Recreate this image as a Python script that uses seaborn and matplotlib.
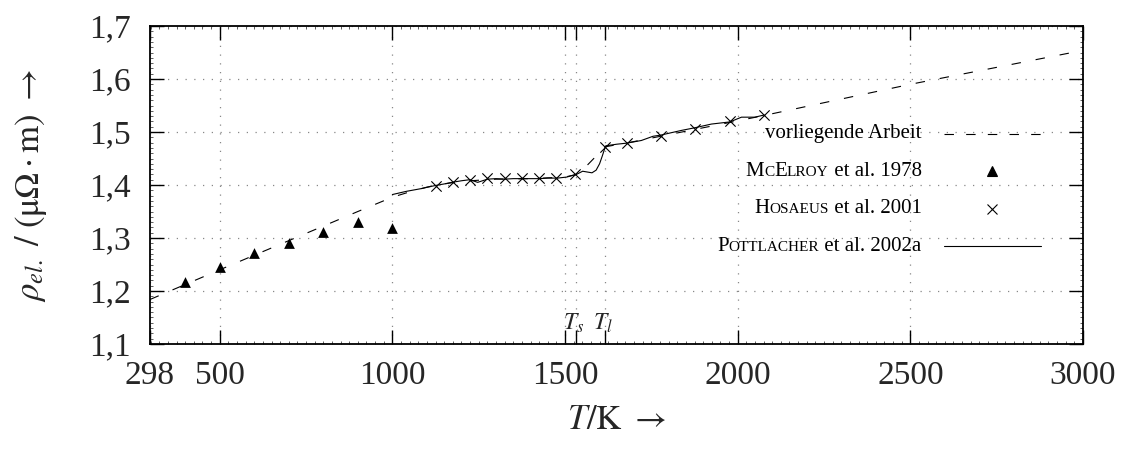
"""
Spezifischer elektrischer Widerstand rho_el. ueber T
Output: out.png
"""
import matplotlib
matplotlib.use('Agg')
import matplotlib.pyplot as plt
from matplotlib.ticker import MultipleLocator
from matplotlib.offsetbox import TextArea, HPacker, VPacker, DrawingArea, AnnotationBbox
from matplotlib.lines import Line2D
import seaborn as sns

sns.set_theme(style='ticks')
plt.rcParams.update({
    'font.family': ['Liberation Serif', 'DejaVu Serif'],
    'mathtext.fontset': 'stix',
    'font.size': 24,
})

# --- Daten ---
T_arbeit = [298, 500, 700, 900, 1000, 1050, 1100, 1130, 1200, 1300, 1400, 1500,
            1540, 1616, 1700, 1800, 1900, 2000, 2075, 2500, 3000]
rho_arbeit = [1.184, 1.240, 1.295, 1.350, 1.377, 1.387, 1.396, 1.400, 1.407, 1.411,
              1.412, 1.415, 1.421, 1.472, 1.482, 1.495, 1.508, 1.521, 1.531, 1.590, 1.654]

T_mcelroy = [400, 500, 600, 700, 800, 900, 1000]
rho_mcelroy = [1.217, 1.245, 1.271, 1.291, 1.311, 1.330, 1.319]

T_hosaeus = [1125, 1175, 1225, 1275, 1325, 1375, 1425, 1475, 1530, 1617,
             1680, 1777, 1876, 1977, 2076]
rho_hosaeus = [1.398, 1.406, 1.410, 1.413, 1.413, 1.413, 1.413, 1.413, 1.421, 1.472,
               1.480, 1.493, 1.506, 1.520, 1.533]

T_pott = [1000, 1040, 1082, 1124, 1150, 1172, 1200, 1224, 1247, 1275, 1300, 1325,
          1350, 1375, 1400, 1427, 1450, 1478, 1505, 1533, 1551, 1578, 1590, 1600,
          1608, 1614, 1618, 1650, 1679, 1721, 1755, 1776, 1837, 1876, 1924, 1977,
          2011, 2050, 2076]
rho_pott = [1.382, 1.388, 1.393, 1.399, 1.402, 1.405, 1.408, 1.410, 1.405, 1.411,
            1.412, 1.411, 1.412, 1.412, 1.412, 1.412, 1.413, 1.413, 1.415, 1.420,
            1.426, 1.423, 1.428, 1.440, 1.455, 1.467, 1.474, 1.477, 1.479, 1.484,
            1.492, 1.494, 1.503, 1.508, 1.515, 1.519, 1.528, 1.528, 1.532]

T_s, T_l = 1533, 1617
x_ticks = [298, 500, 1000, 1500, 2000, 2500, 3000]
y_ticks = [1.1, 1.2, 1.3, 1.4, 1.5, 1.6, 1.7]
y_labels = ['1,1', '1,2', '1,3', '1,4', '1,5', '1,6', '1,7']

fig = plt.figure(figsize=(11.32, 4.54), dpi=100)
ax = fig.add_axes([0.1325, 0.2423, 0.8242, 0.7004])

# --- Kurven ---
sns.lineplot(x=T_arbeit, y=rho_arbeit, ax=ax, color='black', lw=0.8, estimator=None, sort=False)
ax.lines[-1].set_dashes([8.5, 13.5])
sns.lineplot(x=T_pott, y=rho_pott, ax=ax, color='black', lw=0.8, estimator=None, sort=False)
sns.scatterplot(x=T_mcelroy, y=rho_mcelroy, ax=ax, marker='^', s=60, color='black',
                linewidth=0, zorder=4)
sns.scatterplot(x=T_hosaeus, y=rho_hosaeus, ax=ax, marker='x', s=55, color='black',
                linewidth=0.8, zorder=4)

# --- Achsen ---
ax.set_xlim(298, 3000)
ax.set_ylim(1.1, 1.7)
ax.set_xticks(x_ticks + [T_s, T_l])
ax.set_xticklabels([str(t) for t in x_ticks] + ['', ''])
ax.set_yticks(y_ticks)
ax.set_yticklabels(y_labels)
ax.xaxis.set_minor_locator(MultipleLocator(25))
ax.yaxis.set_minor_locator(MultipleLocator(0.01))
ax.tick_params(which='major', direction='in', length=10, width=1.0, top=True, right=True,
               labelsize=24, color='black')
ax.tick_params(axis='x', which='major', pad=12)
ax.tick_params(axis='y', which='major', pad=14)
ax.tick_params(which='minor', direction='in', length=2, width=0.6, top=True, right=True,
               color='#444444')
for sp in ax.spines.values():
    sp.set_linewidth(1.3)
    sp.set_color('black')
ax.grid(True, which='major', color='#888888', linestyle=(0, (1, 6)), linewidth=0.9)

ax.text(T_s - 8, 1.139, '$T_s$', ha='center', va='center', fontsize=17)
ax.text(T_l - 8, 1.139, '$T_l$', ha='center', va='center', fontsize=17)

ax.set_xlabel(r'$T/\mathrm{K}\ \rightarrow$', fontsize=25, labelpad=9)
ax.set_ylabel(r'$\rho_{el.}\ /\ (\mathrm{\mu\Omega}\cdot\mathrm{m})\ \rightarrow$', fontsize=25)
ax.yaxis.set_label_coords(-0.108, 0.5)

# --- Legende (Kapitälchen per Hand) ---
big, small = 15, 11


def label_box(parts):
    boxes = [TextArea(txt, textprops=dict(fontsize=(big if b else small), color='black'))
             for txt, b in parts]
    return HPacker(children=boxes, align='baseline', pad=0, sep=0)


def handle_box(kind):
    da = DrawingArea(86, 20, 0, 0)
    if kind == 'dash':
        ln = Line2D([16, 86], [10, 10], color='black', lw=0.8)
        ln.set_dashes([8.5, 11])
        da.add_artist(ln)
    elif kind == 'line':
        da.add_artist(Line2D([16, 86], [10, 10], color='black', lw=0.8))
    else:
        da.add_artist(Line2D([51], [10], marker=kind, ms=7.5 if kind == '^' else 7,
                             color='black', mew=0.8, lw=0))
    return da


rows = [
    ([('vorliegende Arbeit', True)], 'dash'),
    ([('M', True), ('C', False), ('E', True), ('LROY', False), (' et al. 1978', True)], '^'),
    ([('H', True), ('OSAEUS', False), (' et al. 2001', True)], 'x'),
    ([('P', True), ('OTTLACHER', False), (' et al. 2002a', True)], 'line'),
]
row_boxes = [HPacker(children=[label_box(p), handle_box(k)], align='center', pad=0, sep=0)
             for p, k in rows]
legend_box = VPacker(children=row_boxes, align='right', pad=0, sep=7)
ab = AnnotationBbox(legend_box, (0.955, 0.484), xycoords='axes fraction',
                    box_alignment=(1, 0.5), frameon=False, pad=0)
ax.add_artist(ab)

plt.savefig('out.png', dpi=100, facecolor='white')
plt.close()
